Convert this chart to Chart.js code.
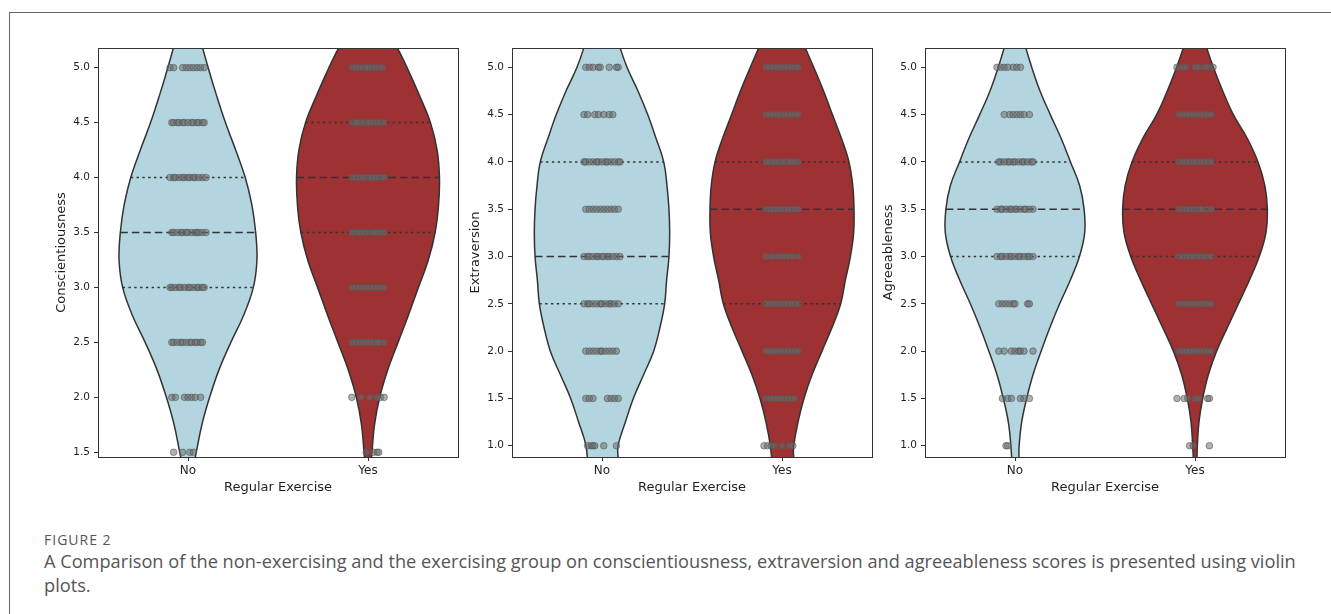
<!DOCTYPE html>
<html><head><meta charset="utf-8">
<script src="https://cdn.jsdelivr.net/npm/chart.js@4.4.1/dist/chart.umd.min.js"></script>
<style>
html,body{margin:0;padding:0;background:#fff;width:1331px;height:614px;overflow:hidden;position:relative;}
.frame{position:absolute;left:9px;top:12px;width:1330px;height:610px;border-left:1px solid #666;border-top:1px solid #666;}
canvas{position:absolute;top:36px;}
#fig{position:absolute;left:44px;top:533px;font:14px/14px 'Open Sans';color:#555;letter-spacing:1px;white-space:nowrap;}
#cap{position:absolute;left:44px;top:550px;font:18.2px/23.5px 'Open Sans';color:#555;white-space:nowrap;}
</style></head>
<body>
<div class="frame"></div>
<canvas id="c1" width="427" height="470" style="left:43px"></canvas>
<canvas id="c2" width="427" height="470" style="left:457px"></canvas>
<canvas id="c3" width="427" height="470" style="left:870px"></canvas>
<div id="fig">FIGURE 2</div>
<div id="cap">A Comparison of the non-exercising and the exercising group on conscientiousness, extraversion and agreeableness scores is presented using violin<br>plots.</div>
<script>
// ---------- data ----------
const CATEGORIES = ['No', 'Yes'];
const X_TITLE = 'Regular Exercise';
const Y_TITLES = ['Conscientiousness', 'Extraversion', 'Agreeableness'];

const Y_TICKS_C = [1.5, 2.0, 2.5, 3.0, 3.5, 4.0, 4.5, 5.0];
const Y_TICKS_EA = [1.0, 1.5, 2.0, 2.5, 3.0, 3.5, 4.0, 4.5, 5.0];
const Y_RANGE_C = [1.457, 5.179];
const Y_RANGE_EA = [0.881, 5.204];

// violin half-widths (category units) read at these score levels
const PROFILE_Y_C = [1.25, 1.5, 1.75, 2.0, 2.25, 2.5, 2.75, 3.0, 3.25, 3.5, 3.75, 4.0, 4.25, 4.5, 4.75, 5.0, 5.25, 5.5];
const C_NO_HW  = [0.012, 0.046, 0.077, 0.12, 0.172, 0.238, 0.31, 0.363, 0.383, 0.376, 0.355, 0.318, 0.265, 0.208, 0.158, 0.112, 0.07, 0.035];
const C_YES_HW = [0.008, 0.022, 0.036, 0.065, 0.11, 0.167, 0.225, 0.28, 0.335, 0.373, 0.392, 0.397, 0.384, 0.347, 0.285, 0.217, 0.143, 0.073];

const PROFILE_Y_EA = [0.75, 1.0, 1.25, 1.5, 1.75, 2.0, 2.25, 2.5, 2.75, 3.0, 3.25, 3.5, 3.75, 4.0, 4.25, 4.5, 4.75, 5.0, 5.25, 5.5];
const E_NO_HW  = [0.078, 0.089, 0.13, 0.174, 0.231, 0.287, 0.322, 0.348, 0.359, 0.372, 0.376, 0.372, 0.361, 0.343, 0.30, 0.254, 0.20, 0.139, 0.093, 0.05];
const E_YES_HW = [0.052, 0.065, 0.089, 0.122, 0.167, 0.222, 0.278, 0.326, 0.352, 0.38, 0.398, 0.40, 0.393, 0.372, 0.33, 0.28, 0.231, 0.176, 0.12, 0.07];
const A_NO_HW  = [0.015, 0.023, 0.037, 0.065, 0.10, 0.145, 0.194, 0.248, 0.307, 0.358, 0.387, 0.384, 0.359, 0.308, 0.256, 0.196, 0.139, 0.093, 0.054, 0.025];
const A_YES_HW = [0.006, 0.013, 0.022, 0.043, 0.074, 0.12, 0.18, 0.241, 0.302, 0.357, 0.394, 0.402, 0.388, 0.35, 0.29, 0.213, 0.154, 0.102, 0.058, 0.025];

// quartiles [Q1, median, Q3]
const C_NO_Q = [3.0, 3.5, 4.0];
const C_YES_Q = [3.5, 4.0, 4.5];
const E_NO_Q = [2.5, 3.0, 4.0];
const E_YES_Q = [2.5, 3.5, 4.0];
const A_NO_Q = [3.0, 3.5, 4.0];
const A_YES_Q = [3.0, 3.5, 4.0];

// strip points: [score, jitter offsets in hundredths of a category]
const C_NO_PTS = [
  [5.0, [-10, -8, -3, -1, 1, 3, 5, 7, 9]],
  [4.5, [-9, -8, -6, -5, -3, -2, 0, 2, 3, 5, 6, 8, 9]],
  [4.0, [-10, -8, -7, -5, -3, -2, 0, 1, 3, 4, 6, 8, 10]],
  [3.5, [-9, -8, -6, -4, -3, -1, 0, 2, 4, 5, 6, 8, 10]],
  [3.0, [-10, -9, -7, -5, -4, -2, 0, 1, 3, 5, 6, 8, 9]],
  [2.5, [-9, -8, -6, -4, -3, -1, 1, 2, 4, 5, 7, 8]],
  [2.0, [-9, -7, -2, 0, 2, 4, 7]],
  [1.5, [-8, -3, 1, 3]]
];
const C_YES_PTS = [
  [5.0, [-9, -7, -5, -3, -1, 0, 2, 4, 6, 8]],
  [4.5, [-9, -7, -6, -4, -2, 0, 1, 3, 5, 7, 9]],
  [4.0, [-9, -7, -5, -3, -1, 1, 2, 4, 6, 8, 9]],
  [3.5, [-9, -7, -5, -4, -2, 0, 2, 3, 5, 7, 9]],
  [3.0, [-9, -7, -5, -3, -1, 1, 3, 5, 7, 9]],
  [2.5, [-9, -7, -5, -3, -1, 1, 3, 5, 6, 9]],
  [2.0, [-9, -4, 1, 5, 7, 9]],
  [1.5, [-1, 3, 5, 6]]
];
const E_NO_PTS = [
  [5.0, [-9, -7, -5, -2, -1, 4, 8, 9]],
  [4.5, [-10, -8, -4, -2, 1, 4, 6]],
  [4.0, [-10, -9, -7, -5, -3, -2, 0, 2, 3, 5, 7, 9, 10]],
  [3.5, [-9, -7, -5, -3, -1, 1, 3, 5, 7, 9]],
  [3.0, [-10, -8, -7, -5, -3, -2, 0, 1, 3, 4, 6, 8, 10]],
  [2.5, [-10, -8, -7, -5, -3, -1, 0, 2, 4, 5, 7, 9]],
  [2.0, [-9, -7, -5, -3, -1, 0, 2, 4, 6, 8]],
  [1.5, [-9, -7, -5, 3, 5, 7, 9]],
  [1.0, [-8, -6, -5, -4, 1, 8]]
];
const E_YES_PTS = [
  [5.0, [-9, -7, -5, -3, -1, 1, 3, 5, 7, 9]],
  [4.5, [-9, -7, -5, -3, -1, 1, 3, 5, 7, 9]],
  [4.0, [-9, -7, -5, -4, -2, 0, 2, 4, 5, 7, 9]],
  [3.5, [-9, -7, -5, -3, -1, 1, 3, 5, 7, 9]],
  [3.0, [-9, -6, -4, -2, 0, 2, 4, 6, 9]],
  [2.5, [-9, -7, -5, -3, -1, 1, 3, 5, 7, 9]],
  [2.0, [-9, -7, -5, -3, -1, 1, 3, 5, 7, 9]],
  [1.5, [-9, -7, -5, -3, -1, 1, 3, 5, 7]],
  [1.0, [-10, -8, -6, -4, 0, 4, 6]]
];
const A_NO_PTS = [
  [5.0, [-10, -8, -6, -4, -1, 1, 3]],
  [4.5, [-6, -3, -1, 1, 3, 5, 8]],
  [4.0, [-9, -8, -6, -4, -3, -1, 0, 2, 4, 5, 7, 9, 10]],
  [3.5, [-10, -8, -7, -5, -3, -2, 0, 1, 3, 5, 6, 8, 10]],
  [3.0, [-10, -8, -7, -5, -3, -2, 0, 2, 3, 5, 7, 8, 10]],
  [2.5, [-9, -7, -5, -3, -1, 0, 7, 8]],
  [2.0, [-9, -6, -2, 0, 2, 3, 5, 10]],
  [1.5, [-7, -4, -2, 3, 5, 8]],
  [1.0, [-5, -4]]
];
const A_YES_PTS = [
  [5.0, [-10, -7, -5, 0, 2, 5, 7, 10]],
  [4.5, [-9, -7, -5, -3, -1, 1, 3, 5, 7, 9]],
  [4.0, [-9, -7, -5, -3, -1, 1, 3, 5, 7, 9]],
  [3.5, [-9, -7, -5, -3, -1, 1, 3, 4, 7, 9]],
  [3.0, [-9, -7, -5, -3, -1, 1, 3, 5, 7, 9]],
  [2.5, [-9, -7, -5, -3, -1, 1, 3, 5, 7, 9]],
  [2.0, [-9, -7, -5, -3, -1, 1, 3, 5, 7, 9]],
  [1.5, [-10, -6, -4, 0, 2, 7, 8]],
  [1.0, [-3, -1, 8]]
];

// ---------- styling ----------
const NO_COLOR = '#b3d5e0';
const YES_COLOR = '#9e3132';
const EDGE = '#333333';
const FONT = 'DejaVu Sans';
const TEXT = '#1f1f1f';

function lookup(ys, hw, v) {
  for (let i = 0; i < ys.length - 1; i++) {
    if (v >= ys[i] && v <= ys[i + 1]) {
      const t = (v - ys[i]) / (ys[i + 1] - ys[i]);
      return hw[i] + t * (hw[i + 1] - hw[i]);
    }
  }
  return 0;
}

function violin(center, ys, hw, color) {
  const pts = [];
  for (let i = 0; i < ys.length; i++) pts.push({x: center - hw[i], y: ys[i]});
  for (let i = ys.length - 1; i >= 0; i--) pts.push({x: center + hw[i], y: ys[i]});
  pts.push({x: center - hw[0], y: ys[0]});
  return {data: pts, showLine: true, fill: 'shape', backgroundColor: color, borderColor: EDGE,
    borderWidth: 1.5, pointRadius: 0, tension: 0.4, capBezierPoints: false, order: 3, clip: 0};
}

function quartiles(center, ys, hw, q) {
  return q.map((v, i) => {
    const w = lookup(ys, hw, v);
    return {data: [{x: center - w, y: v}, {x: center + w, y: v}], showLine: true, fill: false,
      borderColor: EDGE, borderWidth: 1.5, borderDash: i === 1 ? [7.5, 4] : [2.4, 3.4],
      pointRadius: 0, order: 2, clip: 0};
  });
}

function strip(center, rows) {
  const pts = [];
  rows.forEach(([y, offs]) => offs.forEach(o => pts.push({x: center + o / 100, y: y})));
  return {data: pts, showLine: false, pointRadius: 3.3, pointBorderWidth: 1,
    pointBackgroundColor: 'rgba(105,105,105,0.52)', pointBorderColor: 'rgba(85,85,85,0.6)', order: 1};
}

const framePlugin = {
  id: 'frame',
  afterDatasetsDraw(chart) {
    const {ctx, chartArea: a} = chart;
    ctx.save();
    ctx.strokeStyle = EDGE;
    ctx.lineWidth = 1;
    ctx.strokeRect(a.left + 0.5, a.top + 0.5, a.width, a.height);
    ctx.restore();
  }
};

function makePanel(id, yTitle, yTicks, yRange, ys, noHW, yesHW, noQ, yesQ, noPts, yesPts) {
  const datasets = [
    violin(0, ys, noHW, NO_COLOR),
    violin(1, ys, yesHW, YES_COLOR),
    ...quartiles(0, ys, noHW, noQ),
    ...quartiles(1, ys, yesHW, yesQ),
    strip(0, noPts),
    strip(1, yesPts)
  ];
  const tickGrid = {display: true, drawOnChartArea: false, drawTicks: true, tickLength: 4, tickColor: EDGE, tickWidth: 1};
  new Chart(document.getElementById(id), {
    type: 'line',
    data: {datasets},
    plugins: [framePlugin],
    options: {
      responsive: false, animation: false, events: [],
      layout: {padding: 12},
      plugins: {legend: {display: false}, tooltip: {enabled: false}},
      scales: {
        x: {
          type: 'linear', min: -0.5, max: 1.5,
          afterBuildTicks: s => { s.ticks = CATEGORIES.map((_, i) => ({value: i})); },
          afterFit: s => { s.height = 37; },
          ticks: {callback: v => CATEGORIES[Math.round(v)], font: {family: FONT, size: 12, lineHeight: 1},
            color: TEXT, padding: 3.5, maxRotation: 0, autoSkip: false},
          grid: tickGrid, border: {display: false},
          title: {display: true, text: X_TITLE, font: {family: FONT, size: 13, lineHeight: 1}, color: TEXT, padding: 0}
        },
        y: {
          type: 'linear', min: yRange[0], max: yRange[1],
          afterBuildTicks: s => { s.ticks = yTicks.map(v => ({value: v})); },
          afterFit: s => { s.width = 43; },
          ticks: {callback: v => Number(v).toFixed(1), font: {family: FONT, size: 10.5, lineHeight: 1},
            color: TEXT, padding: 4, autoSkip: false},
          grid: tickGrid, border: {display: false},
          title: {display: true, text: yTitle, font: {family: FONT, size: 13, lineHeight: 1}, color: TEXT, padding: 0}
        }
      }
    }
  });
}

makePanel('c1', Y_TITLES[0], Y_TICKS_C, Y_RANGE_C, PROFILE_Y_C, C_NO_HW, C_YES_HW, C_NO_Q, C_YES_Q, C_NO_PTS, C_YES_PTS);
makePanel('c2', Y_TITLES[1], Y_TICKS_EA, Y_RANGE_EA, PROFILE_Y_EA, E_NO_HW, E_YES_HW, E_NO_Q, E_YES_Q, E_NO_PTS, E_YES_PTS);
makePanel('c3', Y_TITLES[2], Y_TICKS_EA, Y_RANGE_EA, PROFILE_Y_EA, A_NO_HW, A_YES_HW, A_NO_Q, A_YES_Q, A_NO_PTS, A_YES_PTS);
</script>
</body></html>
